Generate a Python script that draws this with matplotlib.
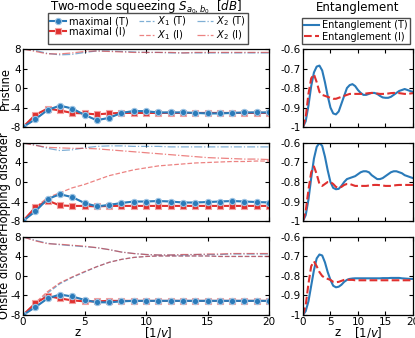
import numpy as np
import matplotlib
matplotlib.use("Agg")
import matplotlib.pyplot as plt

plt.rcParams['font.family'] = ['DejaVu Sans']
plt.rcParams['axes.unicode_minus'] = False
plt.rcParams['mathtext.fontset'] = 'dejavusans'

# propagation distance
z_max = np.arange(0, 21, 1)        # markers / quadratures
z_ent = np.arange(0, 20.5, 0.5)    # entanglement curves

rows = ['Pristine', 'Hopping disorder', 'Onsite disorder']

# maximal squeezing [dB]
max_T = [
    [-8, -6.4, -4.5, -3.6, -4.2, -5.5, -6.6, -6.1, -5.1, -4.7, -4.75, -5.0, -5.0, -5.0, -5.1, -5.2, -5.2, -5.1, -5.0, -5.0, -5.0],
    [-8, -6.0, -3.5, -2.5, -3.1, -4.3, -5.0, -4.7, -4.3, -4.0, -4.0, -3.9, -4.0, -4.2, -4.2, -4.1, -4.0, -3.9, -4.0, -4.1, -4.2],
    [-8, -6.4, -4.6, -3.8, -4.2, -4.9, -5.4, -5.4, -5.2, -5.1, -5.1, -5.1, -5.1, -5.1, -5.1, -5.1, -5.1, -5.1, -5.1, -5.1, -5.1],
]
max_I = [
    [-8, -5.5, -4.2, -4.6, -5.1, -5.2, -5.4, -5.2, -5.1, -5.1, -5.1, -5.1, -5.1, -5.1, -5.1, -5.1, -5.1, -5.1, -5.1, -5.1, -5.1],
    [-8, -5.2, -3.8, -4.8, -4.9, -4.9, -5.0, -4.9, -4.9, -4.9, -4.9, -4.9, -4.9, -4.9, -4.9, -4.9, -4.9, -4.9, -4.9, -4.9, -4.9],
    [-8, -5.6, -4.1, -4.6, -5.0, -5.2, -5.2, -5.1, -5.1, -5.1, -5.1, -5.1, -5.1, -5.1, -5.1, -5.1, -5.1, -5.1, -5.1, -5.1, -5.1],
]

# quadratures X1, X2 [dB]
x1_T = [
    max_T[0],
    max_T[1],
    [-8, -6.0, -3.5, -1.6, -0.3, 0.8, 1.9, 2.8, 3.4, 3.8, 4.0, 4.1, 4.1, 4.1, 4.1, 4.1, 4.0, 4.0, 4.0, 4.0, 4.0],
]
x1_I = [
    max_I[0],
    [-8, -5.2, -3.2, -2.2, -1.2, -0.5, 0.4, 1.3, 1.9, 2.5, 2.9, 3.3, 3.5, 3.7, 3.9, 4.0, 4.1, 4.2, 4.2, 4.3, 4.3],
    [-8, -5.5, -3.2, -1.4, -0.2, 0.9, 1.9, 2.8, 3.4, 3.8, 4.0, 4.1, 4.1, 4.1, 4.1, 4.1, 4.0, 4.0, 4.0, 4.0, 4.0],
]
x2_T = [
    [8, 7.7, 7.1, 6.8, 6.9, 7.3, 7.6, 7.6, 7.5, 7.4, 7.3, 7.3, 7.2, 7.2, 7.2, 7.2, 7.2, 7.2, 7.2, 7.2, 7.2],
    [8, 7.6, 6.9, 6.45, 6.6, 7.0, 7.3, 7.4, 7.4, 7.3, 7.3, 7.3, 7.2, 7.2, 7.2, 7.2, 7.2, 7.2, 7.2, 7.2, 7.2],
    [8, 7.3, 6.7, 6.4, 6.2, 6.0, 5.8, 5.4, 4.9, 4.6, 4.4, 4.3, 4.3, 4.3, 4.4, 4.4, 4.4, 4.5, 4.5, 4.5, 4.5],
]
x2_I = [
    [8, 7.5, 7.0, 7.0, 7.2, 7.5, 7.6, 7.5, 7.4, 7.3, 7.3, 7.3, 7.3, 7.2, 7.3, 7.3, 7.3, 7.3, 7.3, 7.3, 7.3],
    [8, 7.5, 7.1, 7.0, 6.9, 6.9, 6.8, 6.6, 6.4, 6.2, 6.0, 5.8, 5.6, 5.4, 5.2, 5.0, 4.9, 4.8, 4.7, 4.7, 4.6],
    [8, 7.2, 6.6, 6.5, 6.3, 6.1, 5.8, 5.4, 4.9, 4.6, 4.4, 4.3, 4.3, 4.4, 4.4, 4.5, 4.5, 4.6, 4.6, 4.6, 4.6],
]

# entanglement, sampled every 0.5 in z
ent_T = [
    [-1.0, -0.97, -0.89, -0.79, -0.72, -0.69, -0.685, -0.71, -0.77, -0.84, -0.90, -0.93, -0.935, -0.92, -0.88, -0.84,
     -0.80, -0.785, -0.78, -0.79, -0.81, -0.825, -0.835, -0.835, -0.83, -0.825, -0.825, -0.83, -0.84, -0.848, -0.85,
     -0.85, -0.845, -0.835, -0.825, -0.815, -0.81, -0.805, -0.81, -0.815, -0.82],
    [-1.0, -0.97, -0.89, -0.78, -0.68, -0.62, -0.60, -0.615, -0.67, -0.74, -0.80, -0.83, -0.837, -0.835, -0.82, -0.80,
     -0.785, -0.78, -0.775, -0.77, -0.76, -0.75, -0.745, -0.745, -0.75, -0.765, -0.775, -0.785, -0.785, -0.78, -0.77,
     -0.76, -0.75, -0.745, -0.745, -0.75, -0.755, -0.765, -0.77, -0.775, -0.78],
    [-1.0, -0.98, -0.93, -0.85, -0.77, -0.71, -0.69, -0.695, -0.73, -0.78, -0.82, -0.85, -0.858, -0.855, -0.845, -0.83,
     -0.82, -0.815, -0.813, -0.812, -0.812, -0.812, -0.812, -0.812, -0.812, -0.812, -0.812, -0.812, -0.812, -0.811, -0.811,
     -0.811, -0.81, -0.81, -0.81, -0.81, -0.812, -0.813, -0.814, -0.815, -0.815],
]
ent_I = [
    [-1.0, -0.95, -0.83, -0.75, -0.73, -0.77, -0.82, -0.835, -0.84, -0.845, -0.85, -0.855, -0.855, -0.85, -0.845, -0.84,
     -0.835, -0.83, -0.83, -0.83, -0.83, -0.83, -0.83, -0.828, -0.826, -0.825, -0.826, -0.828, -0.83, -0.83, -0.83,
     -0.828, -0.826, -0.825, -0.825, -0.826, -0.828, -0.83, -0.83, -0.828, -0.826],
    [-1.0, -0.95, -0.84, -0.75, -0.72, -0.76, -0.81, -0.82, -0.81, -0.80, -0.80, -0.81, -0.825, -0.83, -0.825, -0.815,
     -0.81, -0.81, -0.815, -0.82, -0.82, -0.82, -0.82, -0.82, -0.818, -0.816, -0.815, -0.815, -0.816, -0.818, -0.82,
     -0.82, -0.82, -0.818, -0.816, -0.815, -0.815, -0.815, -0.815, -0.815, -0.815],
    [-1.0, -0.95, -0.84, -0.75, -0.725, -0.75, -0.78, -0.80, -0.81, -0.815, -0.82, -0.83, -0.832, -0.83, -0.825, -0.82,
     -0.818, -0.82, -0.82, -0.822, -0.822, -0.822, -0.822, -0.822, -0.822, -0.822, -0.822, -0.822, -0.822, -0.822, -0.822,
     -0.822, -0.822, -0.822, -0.822, -0.822, -0.822, -0.822, -0.822, -0.822, -0.822],
]

blue = '#2a7ab9'
red = '#e0302f'
blue_l = '#9cc3e3'
red_l = '#f2a0a0'

W, H = 415, 338
fig = plt.figure(figsize=(W / 100, H / 100), dpi=100)

bottoms = [0.624, 0.346, 0.068]
h = 0.231
row_centers = [88, 182, 275]

for i in range(3):
    axl = fig.add_axes([0.0554, bottoms[i], 0.593, h])
    axr = fig.add_axes([0.730, bottoms[i], 0.265, h])

    axl.plot(z_max, x1_T[i], '--', color=blue, lw=0.9, alpha=0.6, label='$X_1$ (T)')
    axl.plot(z_max, x1_I[i], '--', color=red, lw=0.9, alpha=0.6, label='$X_1$ (I)')
    axl.plot(z_max, x2_T[i], '-.', color=blue, lw=0.9, alpha=0.6, label='$X_2$ (T)')
    axl.plot(z_max, x2_I[i], '-.', color=red, lw=0.9, alpha=0.6, label='$X_2$ (I)')
    axl.plot(z_max, max_I[i], '-', color=red, lw=1.5, marker='s', ms=4.5,
             mec=red_l, mew=0.8, label='maximal (I)')
    axl.plot(z_max, max_T[i], '-', color=blue, lw=1.5, marker='o', ms=4.5,
             mec=blue_l, mew=0.8, label='maximal (T)')

    axl.set_xlim(0, 20)
    axl.set_ylim(-8, 8)
    axl.set_yticks([-8, -4, 0, 4, 8])
    axl.set_xticks([0, 5, 10, 15, 20])
    fig.text(5 / W, 1 - row_centers[i] / H, rows[i], rotation=90, fontsize=8.3,
             ha='center', va='center')

    axr.plot(z_ent, ent_T[i], '-', color=blue, lw=1.5, label='Entanglement (T)')
    axr.plot(z_ent, ent_I[i], '--', color=red, lw=1.5, label='Entanglement (I)')
    axr.set_xlim(0, 20)
    axr.set_ylim(-1, -0.6)
    axr.set_yticks([-1, -0.9, -0.8, -0.7, -0.6])
    axr.set_yticklabels(['-1', '-0.9', '-0.8', '-0.7', '-0.6'])
    axr.set_xticks([0, 5, 10, 15, 20])

    for ax in (axl, axr):
        ax.tick_params(direction='in', top=True, right=True, labelsize=7.5,
                       length=3, width=0.8, pad=1.5)
        for s in ax.spines.values():
            s.set_linewidth(0.9)
        if i < 2:
            ax.set_xticklabels([])

    if i == 0:
        hnd, lab = axl.get_legend_handles_labels()
        order = [5, 4, 0, 1, 2, 3]
        fig.legend([hnd[k] for k in order], [lab[k] for k in order], ncol=3,
                   loc='lower center', bbox_to_anchor=(148 / W, 1 - 44 / H), fontsize=7.1,
                   handlelength=1.6, handletextpad=0.3, columnspacing=1.0,
                   borderpad=0.2, labelspacing=0.0, borderaxespad=0.0, fancybox=False,
                   edgecolor='0.3', framealpha=1)
        hnd, lab = axr.get_legend_handles_labels()
        fig.legend(hnd, lab, loc='lower center', bbox_to_anchor=(356 / W, 1 - 44 / H),
                   fontsize=7.0, handlelength=1.5, handletextpad=0.3, borderpad=0.25,
                   labelspacing=0.15, borderaxespad=0.0, fancybox=False,
                   edgecolor='0.3', framealpha=1)

fig.text(146 / W, 1 - 7 / H, r'Two-mode squeezing $S_{a_0,b_0}$  $[dB]$', fontsize=8.5,
         ha='center', va='center')
fig.text(358 / W, 1 - 7 / H, 'Entanglement', fontsize=8.5, ha='center', va='center')
# x labels ("z" and the unit sit apart, as in the reference)
fig.text(78 / W, 1 - 333 / H, 'z', fontsize=8.5, ha='center', va='center')
fig.text(158 / W, 1 - 333 / H, r'[1/$v$]', fontsize=8.5, ha='center', va='center')
fig.text(338 / W, 1 - 333 / H, 'z', fontsize=8.5, ha='center', va='center')
fig.text(368 / W, 1 - 333 / H, r'[1/$v$]', fontsize=8.5, ha='center', va='center')

fig.savefig('out.png', dpi=100)
